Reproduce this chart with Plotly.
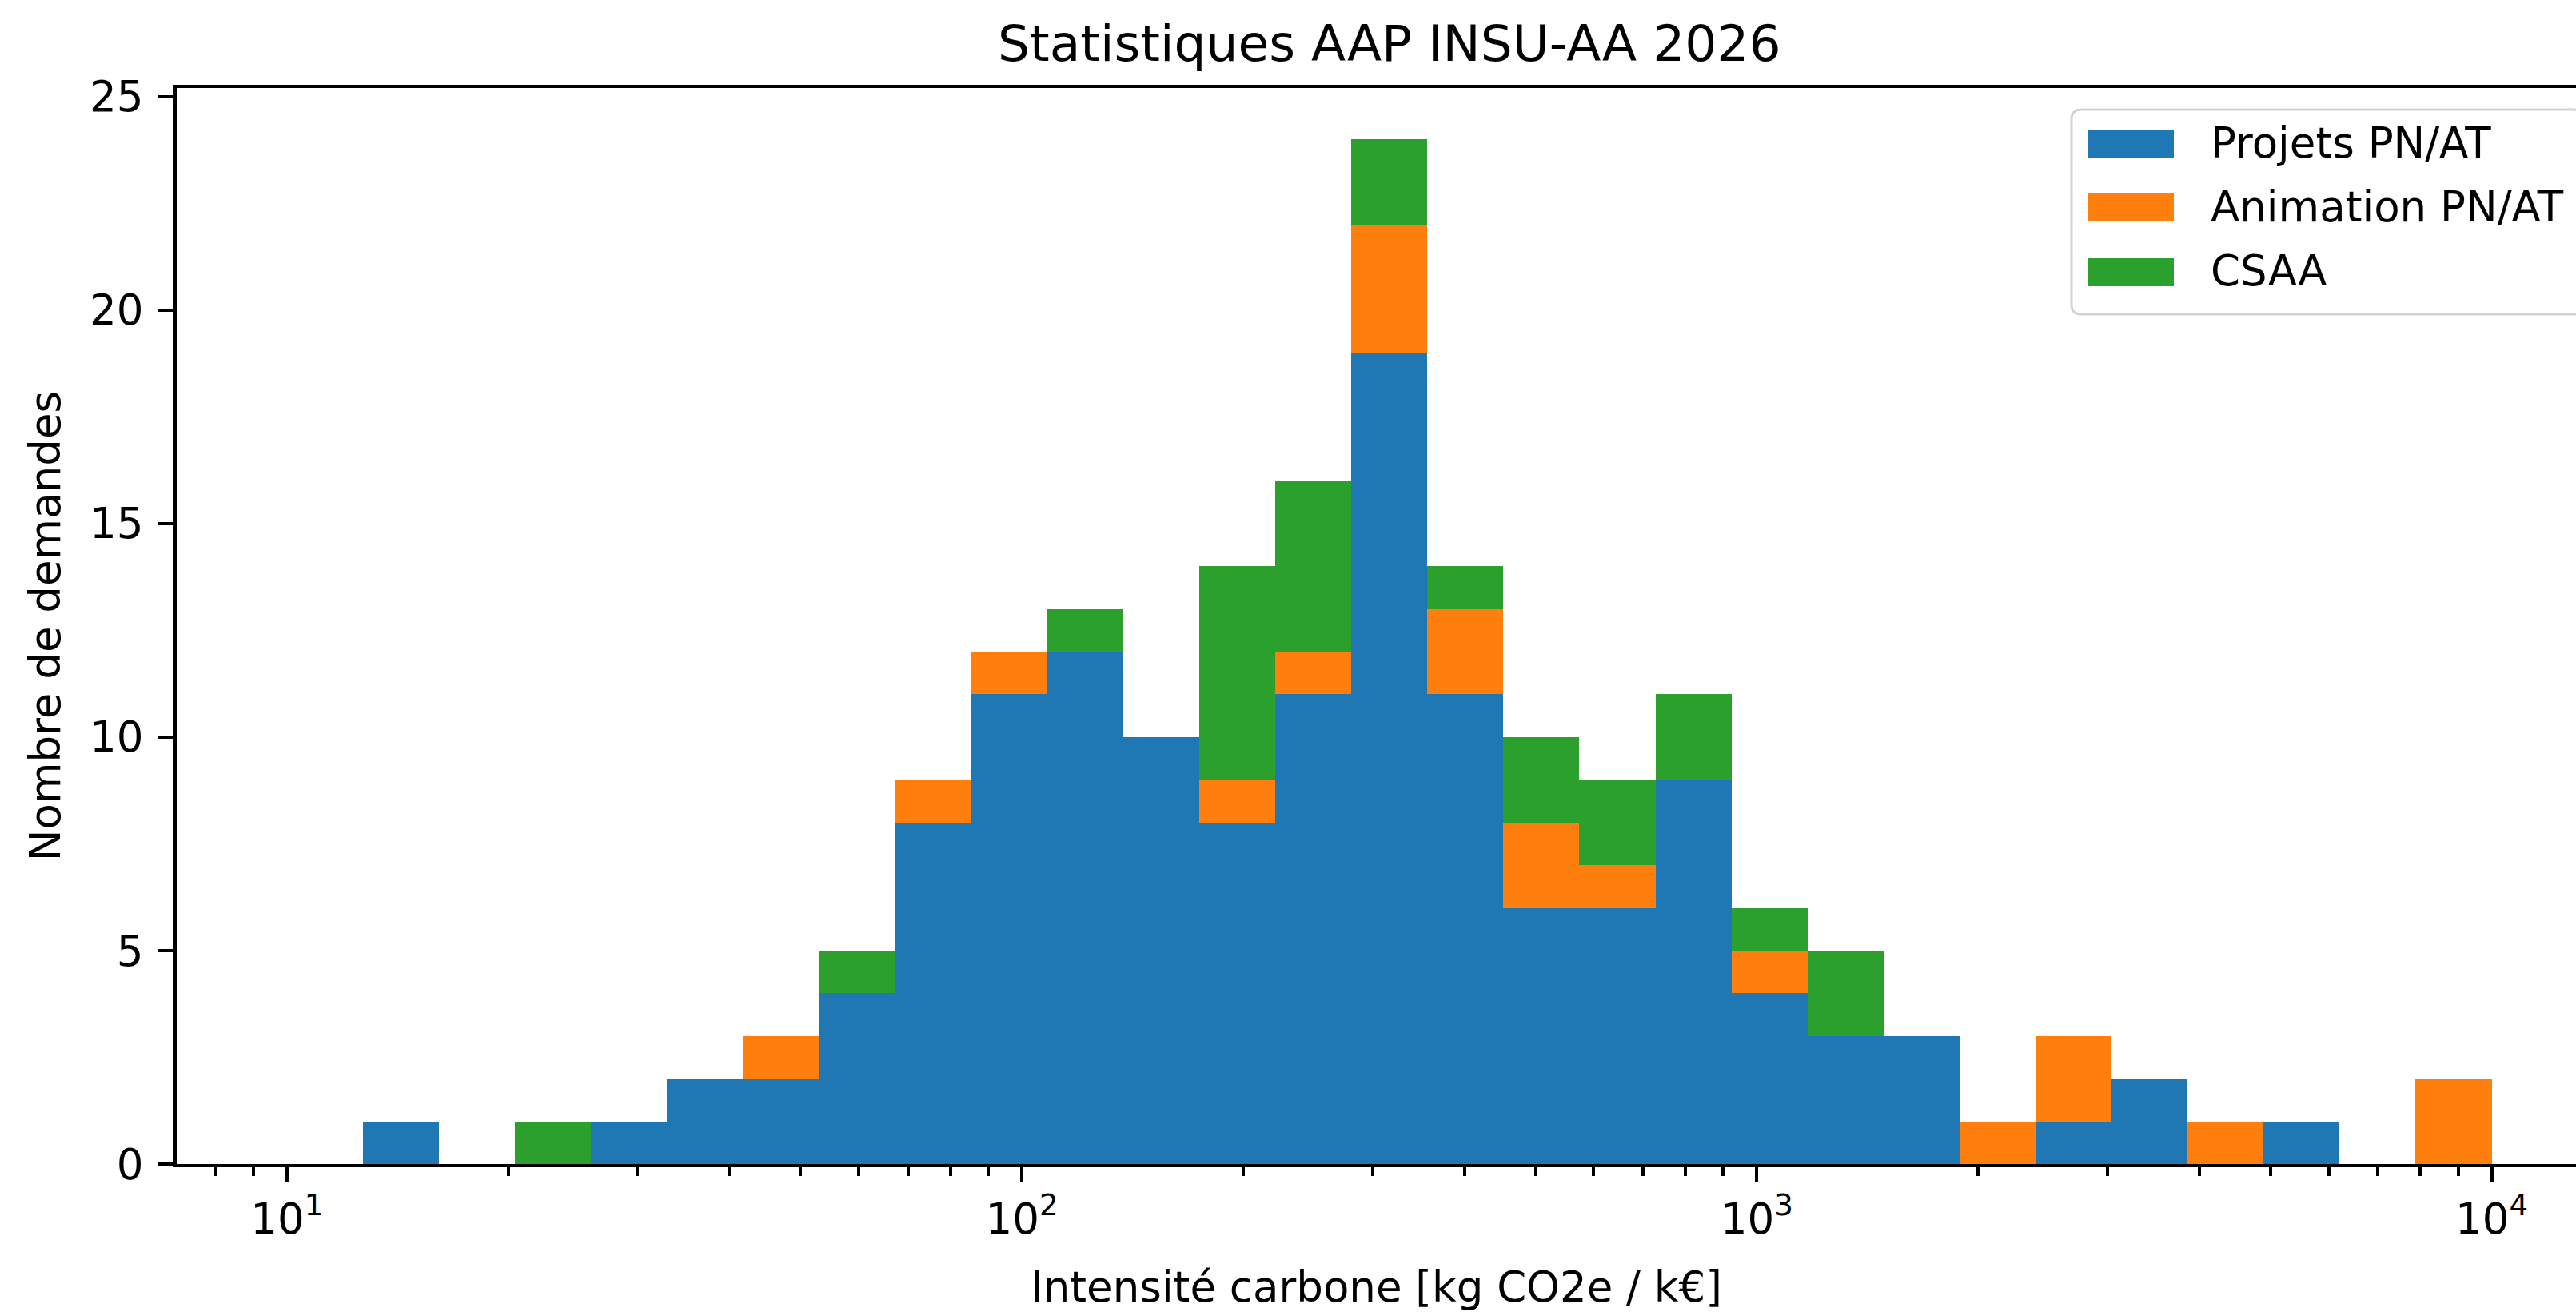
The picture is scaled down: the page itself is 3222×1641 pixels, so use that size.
import numpy as np
import plotly.graph_objects as go

# ---------------- data ----------------
# histogram bins: 29 log-spaced bins between 10 and 10^4 kg CO2e / k€
bin_edges = np.logspace(1, 4, 30)
projets = [0, 1, 0, 0, 1, 2, 2, 4, 8, 11, 12, 10, 8, 11, 19, 11, 6, 6, 9, 4, 3, 3, 0, 1, 2, 0, 1, 0, 0]
animation = [0, 0, 0, 0, 0, 0, 1, 0, 1, 1, 0, 0, 1, 1, 3, 2, 2, 1, 0, 1, 0, 0, 1, 2, 0, 1, 0, 0, 2]
csaa = [0, 0, 0, 1, 0, 0, 0, 1, 0, 0, 1, 0, 5, 4, 2, 1, 2, 2, 2, 1, 2, 0, 0, 0, 0, 0, 0, 0, 0]
series_names = ["Projets PN/AT", "Animation PN/AT", "CSAA"]
xtick_vals = [10, 100, 1000, 10000]
xtick_text = ["10<sup>1</sup>", "10<sup>2</sup>", "10<sup>3</sup>", "10<sup>4</sup>"]
ytick_vals = [0, 5, 10, 15, 20, 25]
title_text = "Statistiques AAP INSU-AA 2026"
xlabel = "Intensité carbone [kg CO2e / k€]"
ylabel = "Nombre de demandes"

# ---------------- style ----------------
colors = ["#1f77b4", "#ff7f0e", "#2ca02c"]
FONT = "DejaVu Sans"
W, H = 3222, 1641
ML, MR, MT, MB = 221, 0, 110, 185
PW, PH = W - ML - MR, H - MT - MB


def px2x(px):
    return (px - ML) / PW


def px2y(py):
    return (H - MB - py) / PH


left_edges = bin_edges[:-1]
right_edges = bin_edges[1:]
centers = (left_edges + right_edges) / 2.0
widths = right_edges - left_edges

fig = go.Figure()
for name, vals, col in zip(series_names, [projets, animation, csaa], colors):
    fig.add_trace(go.Bar(
        x=centers, y=vals, width=widths, name=name,
        marker=dict(color=col, line=dict(width=0)),
        showlegend=False,
    ))

minor_vals = [m * 10 ** e for e in range(0, 4) for m in range(2, 10)]

fig.update_layout(
    width=W, height=H,
    margin=dict(l=ML, r=MR, t=MT, b=MB, pad=0),
    barmode="stack",
    paper_bgcolor="white", plot_bgcolor="white",
    font=dict(family=FONT, size=53, color="black"),
    title=dict(text=title_text, x=1737.75 / W, xref="container", xanchor="center",
               y=1 - 54 / H, yref="container", yanchor="middle",
               font=dict(family=FONT, size=63, color="black")),
    xaxis=dict(
        type="log", range=[0.85, 4.1147],
        tickmode="array", tickvals=xtick_vals, ticktext=xtick_text,
        ticks="outside", ticklen=19, tickwidth=4, tickcolor="black",
        minor=dict(tickmode="array", tickvals=minor_vals, ticks="outside",
                   ticklen=11, tickwidth=4, tickcolor="black", showgrid=False),
        showline=True, linecolor="black", linewidth=4, mirror=True,
        showgrid=False, zeroline=False,
        tickfont=dict(family=FONT, size=53, color="black"),
        title=dict(text=xlabel, font=dict(family=FONT, size=53, color="black"), standoff=38),
    ),
    yaxis=dict(
        range=[0, 25.2], tickmode="array", tickvals=ytick_vals,
        ticks="outside", ticklen=19, tickwidth=4, tickcolor="black",
        showline=True, linecolor="black", linewidth=4, mirror=False,
        showgrid=False, zeroline=False,
        tickfont=dict(family=FONT, size=53, color="black"),
        ticklabelstandoff=8,
        title=dict(text=ylabel, font=dict(family=FONT, size=53, color="black"), standoff=20),
    ),
)

# ---------------- custom legend (matplotlib-like) ----------------
lx0, lx1, ly0, ly1, rad = 2591, 3230, 137, 393, 12
rx, ry = rad / PW, rad / PH
X0, X1, Y0, Y1 = px2x(lx0), px2x(lx1), px2y(ly0), px2y(ly1)
frame_path = (
    f"M {X0 + rx},{Y0} L {X1 - rx},{Y0} Q {X1},{Y0} {X1},{Y0 - ry} "
    f"L {X1},{Y1 + ry} Q {X1},{Y1} {X1 - rx},{Y1} "
    f"L {X0 + rx},{Y1} Q {X0},{Y1} {X0},{Y1 + ry} "
    f"L {X0},{Y0 - ry} Q {X0},{Y0} {X0 + rx},{Y0} Z"
)
fig.add_shape(type="path", path=frame_path, xref="paper", yref="paper",
              fillcolor="rgba(255,255,255,0.8)", line=dict(color="#d3d3d3", width=3),
              layer="above")

row_tops = [162, 242, 323]
for name, col, top in zip(series_names, colors, row_tops):
    fig.add_shape(type="rect", xref="paper", yref="paper",
                  x0=px2x(2611), x1=px2x(2719), y0=px2y(top), y1=px2y(top + 35),
                  fillcolor=col, line=dict(width=0), layer="above")
    fig.add_annotation(text=name, xref="paper", yref="paper",
                       x=px2x(2763), y=px2y(top + 16), xanchor="left", yanchor="middle",
                       showarrow=False, font=dict(family=FONT, size=53, color="black"))

fig.write_html("out.html",
               config={"displayModeBar": False},
               post_script="document.body.style.margin='0';document.body.style.overflow='hidden';")
